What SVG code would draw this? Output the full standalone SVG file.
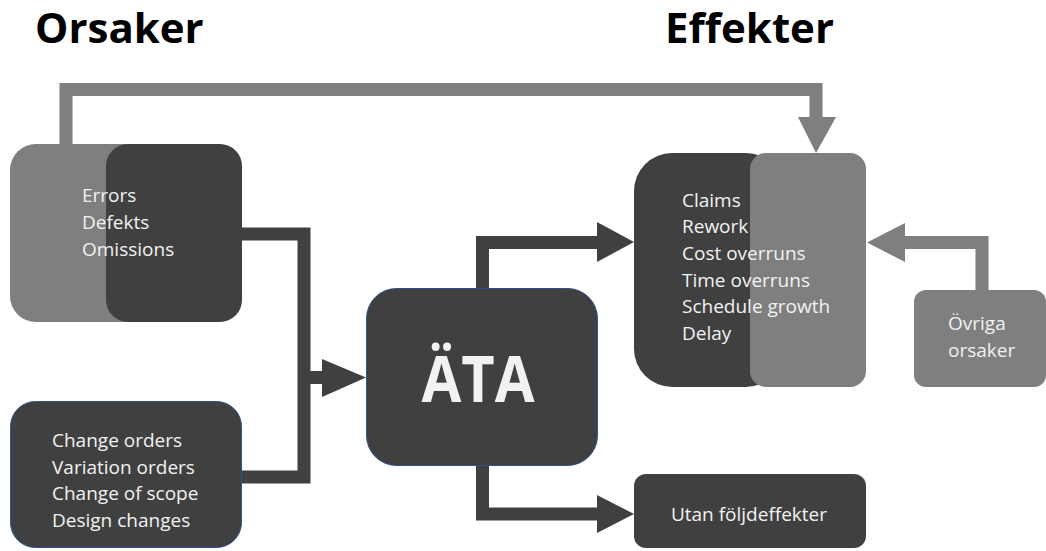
<svg xmlns="http://www.w3.org/2000/svg" width="1046" height="551" viewBox="0 0 1046 551">
<style>
.dark{fill:#404040}
.light{fill:#7f7f7f}
.bord{stroke:#2f528f;stroke-width:1}
.t{font-family:"Open Sans","Liberation Sans",sans-serif;font-size:19px;fill:#f2f2f2}
.title{font-family:"Open Sans","Liberation Sans",sans-serif;font-size:42px;font-weight:bold;fill:#000}
.dl{fill:none;stroke:#404040;stroke-width:13}
.gl{fill:none;stroke:#7f7f7f;stroke-width:13}
</style>
<rect width="1046" height="551" fill="#fff"/>
<text class="title" x="35" y="43">Orsaker</text>
<text class="title" x="665" y="43">Effekter</text>
<g id="connectors">
  <polyline class="gl" points="66,144 66,89.5 816,89.5 816,118"/>
  <polygon fill="#7f7f7f" points="798,117 836,117 816,153"/>
  <polyline class="gl" points="982,290 982,242.5 904,242.5"/>
  <polygon fill="#7f7f7f" points="905,223 905,262 867,242.5"/>
  <polyline class="dl" points="242,234 304,234 304,477 242,477"/>
  <polyline class="dl" points="304,377.5 323,377.5"/>
  <polygon fill="#404040" points="322,359 322,397 366,377.5"/>
  <polyline class="dl" points="482.5,289 482.5,242.5 598,242.5"/>
  <polygon fill="#404040" points="597,222 597,262 634,242"/>
  <polyline class="dl" points="482.5,466 482.5,514 598,514"/>
  <polygon fill="#404040" points="597,495 597,533 634,514"/>
</g>
<g id="node-errors">
  <rect class="light" x="10" y="144" width="160" height="178" rx="26"/>
  <rect class="dark" x="106" y="144" width="136" height="178" rx="22"/>
  <text class="t" x="82" y="202">Errors</text>
  <text class="t" x="82" y="229">Defekts</text>
  <text class="t" x="82" y="256">Omissions</text>
</g>
<g id="node-changes">
  <rect class="dark bord" x="10.5" y="401.5" width="231" height="146" rx="25"/>
  <text class="t" x="52" y="447">Change orders</text>
  <text class="t" x="52" y="474">Variation orders</text>
  <text class="t" x="52" y="500">Change of scope</text>
  <text class="t" x="52" y="527">Design changes</text>
</g>
<g id="node-ata">
  <rect class="dark bord" x="366.5" y="288.5" width="231" height="177" rx="30"/>
  <text x="478" y="402" text-anchor="middle" font-family="Open Sans, Liberation Sans, sans-serif" font-weight="bold" font-size="64" fill="#f2f2f2" textLength="113" lengthAdjust="spacingAndGlyphs">ÄTA</text>
</g>
<g id="node-effects">
  <rect class="dark" x="634" y="153" width="150" height="234" rx="38"/>
  <rect class="light" x="750" y="153" width="116" height="234" rx="16"/>
  <text class="t" x="682" y="207">Claims</text>
  <text class="t" x="682" y="233">Rework</text>
  <text class="t" x="682" y="260">Cost overruns</text>
  <text class="t" x="682" y="287">Time overruns</text>
  <text class="t" x="682" y="313">Schedule growth</text>
  <text class="t" x="682" y="340">Delay</text>
</g>
<g id="node-ovriga">
  <rect class="light" x="914" y="290" width="132" height="97" rx="12"/>
  <text class="t" x="948" y="330">Övriga</text>
  <text class="t" x="948" y="357">orsaker</text>
</g>
<g id="node-utan">
  <rect class="dark" x="634" y="474" width="232" height="74" rx="12"/>
  <text class="t" x="749" y="521" text-anchor="middle">Utan följdeffekter</text>
</g>
</svg>
